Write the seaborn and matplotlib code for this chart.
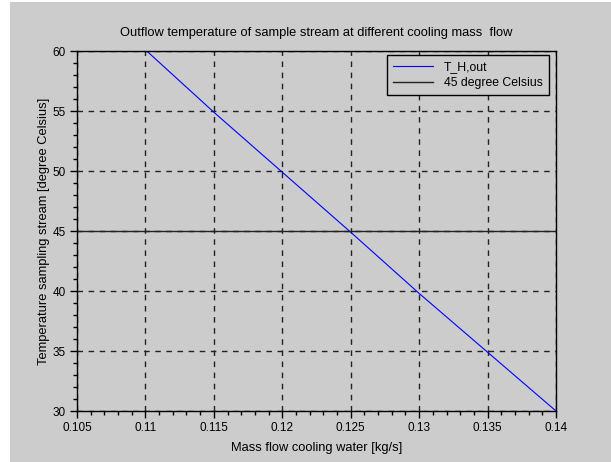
import matplotlib
matplotlib.use("Agg")
import matplotlib.pyplot as plt
import seaborn as sns
import pandas as pd
from matplotlib.ticker import MultipleLocator, FixedLocator
from matplotlib.patches import Rectangle

# Data
mass_flow = [0.11, 0.115, 0.12, 0.125, 0.13, 0.135, 0.14]
t_h_out = [60.1, 54.9, 49.9, 44.9, 39.8, 34.9, 30.0]
ref_x = [0.105, 0.14]
ref_y = [45, 45]
x_ticks = [0.105, 0.11, 0.115, 0.12, 0.125, 0.13, 0.135, 0.14]
x_tick_labels = ["0.105", "0.11", "0.115", "0.12", "0.125", "0.13", "0.135", "0.14"]
y_ticks = [30, 35, 40, 45, 50, 55, 60]

plt.rcParams['font.family'] = ['Liberation Sans', 'DejaVu Sans']
GRAY = "#cccccc"

fig = plt.figure(figsize=(6.11, 4.62), dpi=100, facecolor="white")
fig.patches.append(Rectangle((10/611, 0), 1, 460/462, transform=fig.transFigure,
                             facecolor=GRAY, edgecolor="none", zorder=-10))
ax = fig.add_axes([77/611, 1-411/462, (556-77)/611, (411-51)/462])
ax.set_facecolor(GRAY)

df1 = pd.DataFrame({"x": mass_flow, "y": t_h_out})
df2 = pd.DataFrame({"x": ref_x, "y": ref_y})
sns.lineplot(data=df1, x="x", y="y", ax=ax, color="#0000ff", linewidth=0.8,
             label="T_H,out", sort=False)
sns.lineplot(data=df2, x="x", y="y", ax=ax, color="#222222", linewidth=1.0,
             label="45 degree Celsius", sort=False)

ax.set_xlim(0.105, 0.14)
ax.set_ylim(30, 60)
ax.xaxis.set_major_locator(FixedLocator(x_ticks))
ax.set_xticklabels(x_tick_labels)
ax.yaxis.set_major_locator(FixedLocator(y_ticks))
ax.xaxis.set_minor_locator(MultipleLocator(0.001))
ax.yaxis.set_minor_locator(MultipleLocator(1))
ax.tick_params(which="major", direction="out", length=5, width=1, labelsize=8.5, colors="black", pad=3)
ax.tick_params(which="minor", direction="out", length=3, width=1)
for s in ax.spines.values():
    s.set_color("black")
    s.set_linewidth(1)

ax.grid(True, which="major", color="#222222", linestyle=(0, (4, 4)), linewidth=1)
ax.set_axisbelow(True)

ax.set_title("Outflow temperature of sample stream at different cooling mass  flow",
             fontsize=9.3, pad=11)
ax.set_xlabel("Mass flow cooling water [kg/s]", fontsize=9.3, labelpad=6)
ax.set_ylabel("Temperature sampling stream [degree Celsius]", fontsize=9.3, labelpad=2)

leg = ax.legend(loc="upper right", bbox_to_anchor=((549-77)/479, (411-55)/360), fontsize=8.8,
                frameon=True, fancybox=False, handlelength=3.3, handletextpad=0.9,
                borderpad=0.5, labelspacing=0.3, borderaxespad=0)
leg.get_frame().set_facecolor(GRAY)
leg.get_frame().set_edgecolor("black")
leg.get_frame().set_alpha(1)
leg.get_frame().set_linewidth(1)

fig.savefig("out.png", dpi=100, facecolor=fig.get_facecolor())
